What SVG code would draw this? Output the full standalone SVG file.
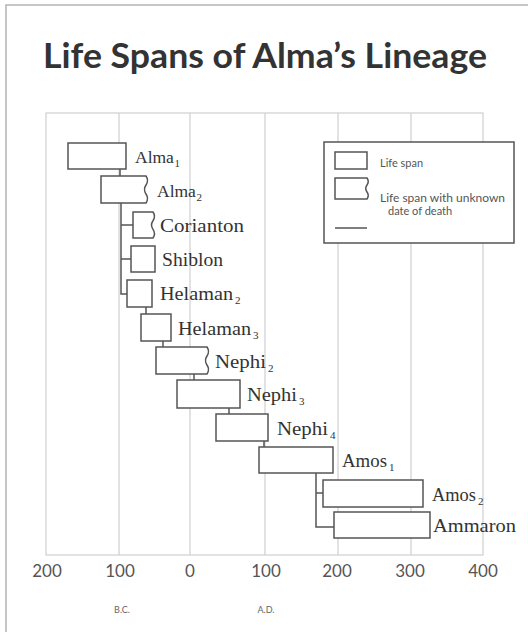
<svg xmlns="http://www.w3.org/2000/svg" width="528" height="632" viewBox="0 0 528 632">
<style>
.frame{fill:none;stroke:#b4b4b4;stroke-width:1.5}
.grid{fill:none;stroke:#cfcfcf;stroke-width:1.2}
.box{fill:#fff;stroke:#555;stroke-width:1.5}
.conn{fill:none;stroke:#555;stroke-width:1.5}
.lbl{font-family:"Liberation Serif",serif;font-size:19px;fill:#333}
.sm{font-size:17.5px}
.sub{font-family:"Liberation Serif",serif;font-size:11px;fill:#333}
.leg{font-family:Lato,"Open Sans",sans-serif;font-size:11px;fill:#555}
.ax{font-family:Lato,"Open Sans",sans-serif;font-size:17px;fill:#555;text-anchor:middle}
.era{font-family:Lato,"Open Sans",sans-serif;font-size:9px;fill:#666;text-anchor:middle}
.title{font-family:Lato,"Open Sans",sans-serif;font-weight:bold;font-size:35px;fill:#333}
</style>
<rect width="528" height="632" fill="#fff"/>
<path class="frame" d="M6,632 V5 H528"/>
<text class="title" x="43" y="68" textLength="444" lengthAdjust="spacingAndGlyphs">Life Spans of Alma’s Lineage</text>
<g id="grid">
<rect class="grid" x="46" y="113" width="437" height="442"/>
<path class="grid" d="M119,113 V555 M190,113 V555 M265,113 V555 M338,113 V555 M411,113 V555"/>
</g>
<g id="axis">
<text class="ax" x="47" y="577">200</text>
<text class="ax" x="120" y="577">100</text>
<text class="ax" x="190" y="577">0</text>
<text class="ax" x="266" y="577">100</text>
<text class="ax" x="337" y="577">200</text>
<text class="ax" x="410" y="577">300</text>
<text class="ax" x="483" y="577">400</text>
<text class="era" x="122" y="613">B.C.</text>
<text class="era" x="266" y="613">A.D.</text>
</g>
<g id="connectors">
<path class="conn" d="M120,169 V176"/>
<path class="conn" d="M121,203 V294 H127 M121,225 H133 M121,259 H131"/>
<path class="conn" d="M146,307 V314"/>
<path class="conn" d="M163,341 V347"/>
<path class="conn" d="M194,374 V380"/>
<path class="conn" d="M229,408 V414"/>
<path class="conn" d="M264,441 V447"/>
<path class="conn" d="M316,473 V527 H334 M316,493 H323"/>
</g>
<g id="alma1">
<rect class="box" x="68" y="143" width="58" height="26"/>
<text class="lbl sm" x="135" y="163">Alma</text><text class="sub" x="174.5" y="167">1</text>
</g>
<g id="alma2">
<path class="box" d="M146,176 H101 V203 H146 Q149,198.5 146,194 Q143,189.5 146,185 Q149,180.5 146,176 Z"/>
<text class="lbl sm" x="157" y="197">Alma</text><text class="sub" x="196.5" y="201">2</text>
</g>
<g id="corianton">
<path class="box" d="M153,212 H133 V238 H153 Q156,233.7 153,229.3 Q150,225 153,220.7 Q156,216.3 153,212 Z"/>
<text class="lbl" x="160" y="232" textLength="84" lengthAdjust="spacingAndGlyphs">Corianton</text>
</g>
<g id="shiblon">
<rect class="box" x="131" y="246" width="24" height="26"/>
<text class="lbl" x="162" y="266" textLength="61" lengthAdjust="spacingAndGlyphs">Shiblon</text>
</g>
<g id="helaman2">
<rect class="box" x="127" y="280" width="25" height="27"/>
<text class="lbl" x="160" y="300" textLength="73" lengthAdjust="spacingAndGlyphs">Helaman</text><text class="sub" x="235" y="304">2</text>
</g>
<g id="helaman3">
<rect class="box" x="141" y="314" width="30" height="27"/>
<text class="lbl" x="178" y="335" textLength="73" lengthAdjust="spacingAndGlyphs">Helaman</text><text class="sub" x="253" y="339">3</text>
</g>
<g id="nephi2">
<path class="box" d="M207,347 H156 V374 H207 Q210,369.5 207,365 Q204,360.5 207,356 Q210,351.5 207,347 Z"/>
<text class="lbl" x="215" y="368" textLength="51" lengthAdjust="spacingAndGlyphs">Nephi</text><text class="sub" x="268" y="372">2</text>
</g>
<g id="nephi3">
<rect class="box" x="177" y="380" width="63" height="28"/>
<text class="lbl" x="247" y="401" textLength="50" lengthAdjust="spacingAndGlyphs">Nephi</text><text class="sub" x="299" y="405">3</text>
</g>
<g id="nephi4">
<rect class="box" x="216" y="414" width="52" height="27"/>
<text class="lbl" x="277" y="435" textLength="51" lengthAdjust="spacingAndGlyphs">Nephi</text><text class="sub" x="330" y="439">4</text>
</g>
<g id="amos1">
<rect class="box" x="259" y="447" width="74" height="26"/>
<text class="lbl" x="342" y="467" textLength="45" lengthAdjust="spacingAndGlyphs">Amos</text><text class="sub" x="389" y="471">1</text>
</g>
<g id="amos2">
<rect class="box" x="323" y="480" width="100" height="27"/>
<text class="lbl" x="432" y="501" textLength="44" lengthAdjust="spacingAndGlyphs">Amos</text><text class="sub" x="478" y="505">2</text>
</g>
<g id="ammaron">
<rect class="box" x="334" y="512" width="96" height="26"/>
<text class="lbl" x="433" y="532" textLength="83" lengthAdjust="spacingAndGlyphs">Ammaron</text>
</g>
<g id="legend">
<rect class="box" x="324" y="142" width="190" height="101"/>
<rect class="box" x="335" y="152" width="32" height="17"/>
<text class="leg" x="380" y="167">Life span</text>
<path class="box" d="M367,178 H335 V199 H367 Q369.5,195.5 367,192 Q364.5,188.5 367,185 Q369.5,181.5 367,178 Z"/>
<text class="leg" x="380" y="202" textLength="125" lengthAdjust="spacingAndGlyphs">Life span with unknown</text>
<text class="leg" x="388" y="215">date of death</text>
<path class="conn" d="M335,228 H367"/>
</g>
</svg>
